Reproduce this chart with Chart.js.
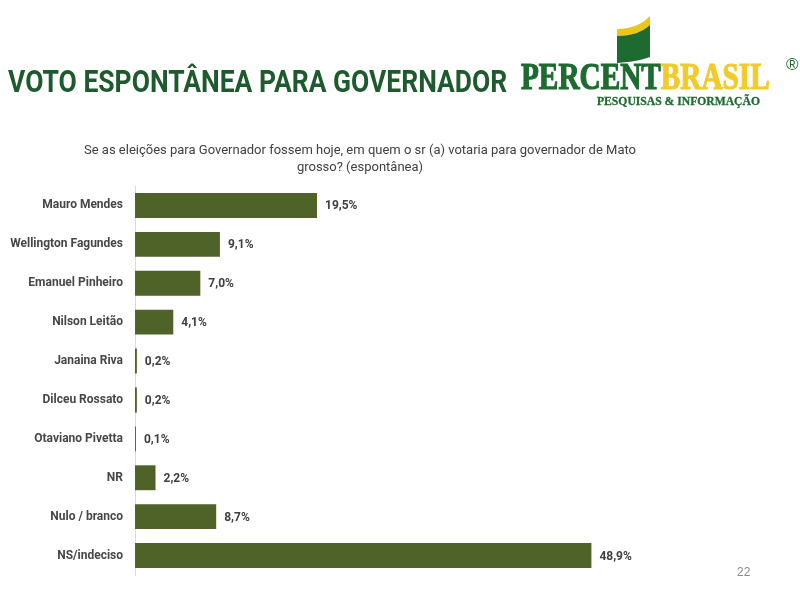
<!DOCTYPE html>
<html>
<head>
<meta charset="utf-8">
<script src="https://cdn.jsdelivr.net/npm/chart.js@4/dist/chart.umd.min.js"></script>
<style>
  html,body{margin:0;padding:0;background:#fff;}
  #wrap{position:relative;width:800px;height:600px;overflow:hidden;}
  #c{position:absolute;left:0;top:0;}
  .t{position:absolute;white-space:nowrap;}
  #title{left:8px;top:66px;line-height:31px;font-family:'Roboto',sans-serif;font-weight:bold;font-size:31px;color:#1e5a2e;transform:scaleX(0.854);transform-origin:left top;}
  #sub{left:0;width:720px;top:141px;text-align:center;font-family:'Roboto',sans-serif;font-size:13px;line-height:17px;color:#404040;}
  #logo1{left:521px;top:57px;line-height:38px;font-family:'Liberation Serif',serif;font-weight:bold;font-size:38px;color:#1d6b30;-webkit-text-stroke:1.2px #1d6b30;transform:scaleX(0.77);transform-origin:left top;}
  #logo1 span{color:#f2cb2a;-webkit-text-stroke:1.2px #f2cb2a;}
  #reg{left:786px;top:55px;font-family:'Liberation Sans',sans-serif;font-size:17px;color:#1d6b30;}
  #logo2{left:597px;top:94px;font-family:'Liberation Serif',serif;font-weight:bold;font-size:12px;color:#1d6b30;-webkit-text-stroke:0.3px #1d6b30;transform:scaleX(0.97);transform-origin:left top;}
  #pg{left:737px;top:565px;font-family:'Liberation Sans',sans-serif;font-size:12px;color:#8a8a8a;}
</style>
</head>
<body>
<div id="wrap">
  <canvas id="c" width="800" height="600"></canvas>
  <svg class="t" style="left:612px;top:10px" width="44" height="60" viewBox="0 0 44 60">
    <path d="M5 19 C20 19 30 14 38 6 L38 15 C30 22 20 26 5 26 Z" fill="#eac51a"/>
    <path d="M5 26 C20 26 30 22 38 15 L38 47 C30 50 20 52 5 53 Z" fill="#1d6b30"/>
  </svg>
  <div class="t" id="title">VOTO ESPONTÂNEA PARA GOVERNADOR</div>
  <div class="t" id="logo1">PERCENT<span>BRASIL</span></div>
  <div class="t" id="reg">®</div>
  <div class="t" id="logo2">PESQUISAS &amp; INFORMAÇÃO</div>
  <div class="t" id="sub">Se as eleições para Governador fossem hoje, em quem o sr (a) votaria para governador de Mato<br>grosso? (espontânea)</div>
  <div class="t" id="pg">22</div>
</div>
<script>
const categories = ["Mauro Mendes","Wellington Fagundes","Emanuel Pinheiro","Nilson Leitão","Janaina Riva","Dilceu Rossato","Otaviano Pivetta","NR","Nulo / branco","NS/indeciso"];
const values = [19.5, 9.1, 7.0, 4.1, 0.2, 0.2, 0.1, 2.2, 8.7, 48.9];
const valueLabels = ["19,5%","9,1%","7,0%","4,1%","0,2%","0,2%","0,1%","2,2%","8,7%","48,9%"];

const labelPlugin = {
  id: 'valLabels',
  afterDatasetsDraw(chart) {
    const ctx = chart.ctx;
    const meta = chart.getDatasetMeta(0);
    ctx.save();
    ctx.font = "bold 12px 'Roboto', sans-serif";
    ctx.fillStyle = '#404040';
    ctx.textAlign = 'left';
    ctx.textBaseline = 'middle';
    meta.data.forEach((bar, i) => {
      ctx.fillText(valueLabels[i], bar.x + 8, bar.y + 1);
    });
    ctx.restore();
  }
};

new Chart(document.getElementById('c'), {
  type: 'bar',
  data: {
    labels: categories,
    datasets: [{
      data: values,
      backgroundColor: '#4f6228',
      borderWidth: 0,
      barPercentage: 0.8,
      categoryPercentage: 0.8
    }]
  },
  options: {
    indexAxis: 'y',
    responsive: false,
    animation: false,
    layout: { padding: { left: 0, right: 105, top: 186, bottom: 25 } },
    plugins: { legend: { display: false }, tooltip: { enabled: false } },
    scales: {
      x: { display: false, min: 0, max: 60 },
      y: {
        afterFit(scale) { scale.width = 135; },
        grid: { color: 'transparent', drawTicks: false },
        border: { display: true, color: '#d9d9d9', width: 1 },
        ticks: {
          color: '#474747',
          padding: 12,
          font: { family: "'Roboto', sans-serif", size: 12, weight: 'bold' }
        }
      }
    }
  },
  plugins: [labelPlugin]
});
</script>
</body>
</html>
